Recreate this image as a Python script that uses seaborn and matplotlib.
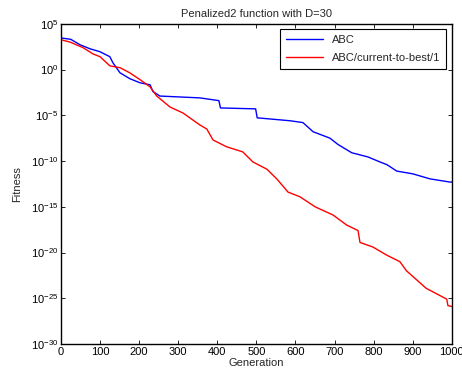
import numpy as np
import pandas as pd
import seaborn as sns
import matplotlib
matplotlib.use("Agg")
import matplotlib.pyplot as plt

# Valeurs (generation, log10 de la fitness)
gen_abc = [0, 25, 49, 74, 100, 125, 133, 151, 176, 202, 228, 235, 253, 355, 404, 408,
           498, 502, 586, 619, 645, 688, 709, 744, 785, 816, 834, 859, 900, 944, 995, 1000]
log_abc = [3.45, 3.3, 2.7, 2.27, 1.94, 1.4, 0.73, -0.36, -1.0, -1.45, -1.67, -2.4, -2.9, -3.1, -3.4, -4.2,
           -4.3, -5.28, -5.6, -5.8, -6.8, -7.5, -8.2, -9.1, -9.55, -10.1, -10.4, -11.1, -11.4, -11.95, -12.3, -12.3]

gen_cur = [0, 23, 56, 82, 100, 125, 151, 176, 202, 228, 245, 279, 312, 355, 373, 389, 424, 465,
           491, 527, 552, 581, 611, 650, 696, 731, 760, 765, 798, 834, 867, 884, 934, 987, 990, 1000]
log_cur = [3.25, 3.0, 2.4, 1.7, 1.4, 0.4, 0.2, -0.36, -1.1, -1.9, -2.9, -4.1, -4.75, -6.05, -6.5, -7.7, -8.45, -9.0,
           -10.1, -10.9, -11.95, -13.4, -13.9, -15.0, -15.9, -17.0, -17.6, -18.9, -19.4, -20.3, -21.0, -22.0, -23.9, -25.1, -25.8, -25.9]

series_names = ["ABC", "ABC/current-to-best/1"]
x_ticks = list(range(0, 1001, 100))
y_ticks = [1e5, 1e0, 1e-5, 1e-10, 1e-15, 1e-20, 1e-25, 1e-30]

df_abc = pd.DataFrame({"Generation": gen_abc, "Fitness": 10.0 ** np.array(log_abc)})
df_cur = pd.DataFrame({"Generation": gen_cur, "Fitness": 10.0 ** np.array(log_cur)})

sns.set_style("ticks")
plt.rcParams["font.family"] = ["Liberation Sans", "DejaVu Sans"]
plt.rcParams["mathtext.fontset"] = "custom"
plt.rcParams["mathtext.rm"] = "Liberation Sans"
plt.rcParams["mathtext.it"] = "Liberation Sans"

fig = plt.figure(figsize=(4.62, 3.79), dpi=100)
ax = fig.add_axes([0.132, 0.0923, 0.846, 0.845])

sns.lineplot(x="Generation", y="Fitness", data=df_abc, color="#0000ff", linewidth=1.0,
             label=series_names[0], ax=ax)
sns.lineplot(x="Generation", y="Fitness", data=df_cur, color="#ff0000", linewidth=1.0,
             label=series_names[1], ax=ax)

ax.set_yscale("log")
ax.set_xlim(0, 1000)
ax.set_ylim(1e-30, 1e5)
ax.set_xticks(x_ticks)
ax.set_yticks(y_ticks)
ax.minorticks_off()
ax.tick_params(direction="in", top=True, right=True, length=3, width=0.6,
               labelsize=8, colors="black", pad=2)
for s in ax.spines.values():
    s.set_linewidth(1.0)
    s.set_color("black")

ax.set_title("Penalized2 function with D=30", fontsize=8, pad=5)
ax.set_xlabel("Generation", fontsize=8, labelpad=1)
ax.set_ylabel("Fitness", fontsize=8, labelpad=6)

leg = ax.legend(loc="upper right", fontsize=8, fancybox=False, edgecolor="black",
                framealpha=1, borderaxespad=0.5, handlelength=3.4, labelspacing=0.75,
                borderpad=0.5)
leg.get_frame().set_linewidth(0.8)

fig.savefig("out.png", dpi=100)
